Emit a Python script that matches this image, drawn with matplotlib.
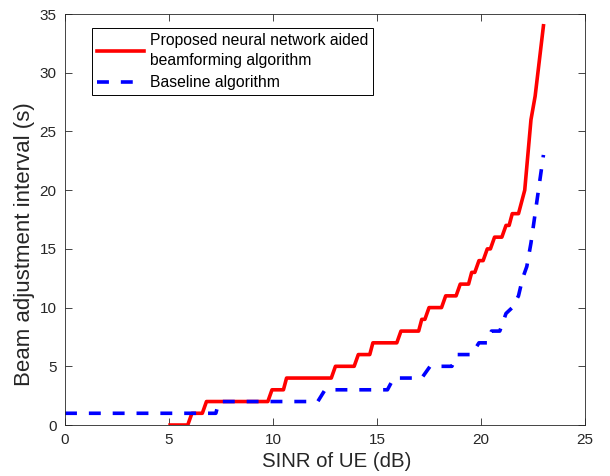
import matplotlib
matplotlib.use("Agg")
import matplotlib.pyplot as plt

# SINR (dB) vs beam adjustment interval (s)
red_x = [5.05, 5.9, 6.1, 6.6, 6.8, 9.75, 9.95, 10.5, 10.65, 12.8, 13.0, 13.9,
         14.1, 14.65, 14.8, 15.95, 16.15, 17.0, 17.15, 17.3, 17.5, 18.1, 18.3,
         18.8, 19.0, 19.4, 19.55, 19.7, 19.9, 20.1, 20.3, 20.45, 20.65, 21.0,
         21.2, 21.35, 21.5, 21.8, 22.1, 22.25, 22.4, 22.6, 23.0]
red_y = [0, 0, 1, 1, 2, 2, 3, 3, 4, 4, 5, 5, 6, 6, 7, 7, 8, 8, 9, 9, 10, 10,
         11, 11, 12, 12, 13, 13, 14, 14, 15, 15, 16, 16, 17, 17, 18, 18,
         20, 23, 26, 28, 34]

blue_x = [0, 7.25, 7.4, 12.15, 12.5, 15.5, 15.8, 17.15, 17.55, 18.6, 18.85,
          19.55, 19.9, 20.3, 20.5, 20.9, 21.2, 21.5, 21.8, 22.0, 22.2, 22.4,
          22.6, 22.8, 23.0]
blue_y = [1, 1, 2, 2, 3, 3, 4, 4, 5, 5, 6, 6, 7, 7, 8, 8, 9.5, 10, 11, 12.5,
          13.5, 15.5, 18, 20.5, 23]

labels = ["Proposed neural network aided\nbeamforming algorithm",
          "Baseline algorithm"]

plt.rcParams['font.family'] = ['Liberation Sans', 'DejaVu Sans']
gray = (0.15, 0.15, 0.15)

fig = plt.figure(figsize=(6.1, 4.76), dpi=100)
ax = fig.add_axes([0.1066, 0.1071, 0.8525, 0.8634])

ax.plot(red_x, red_y, color='red', lw=2.6, label=labels[0])
ax.plot(blue_x, blue_y, color='blue', lw=2.6, dashes=(3.3, 3.3),
        label=labels[1])

ax.set_xlim(0, 25)
ax.set_ylim(0, 35)
ax.set_xticks(range(0, 26, 5))
ax.set_yticks(range(0, 36, 5))
ax.tick_params(direction='in', top=True, right=True, length=5, width=0.6,
               labelsize=11, colors=gray, pad=6)
for s in ax.spines.values():
    s.set_color(gray)
    s.set_linewidth(0.6)

ax.set_xlabel("SINR of UE (dB)", fontsize=14.7, color=gray)
ax.xaxis.set_label_coords(0.523, -0.066)
ax.set_ylabel("Beam adjustment interval (s)", fontsize=16, color=gray)
ax.yaxis.set_label_coords(-0.058, 0.44)

leg = ax.legend(loc='upper left', bbox_to_anchor=(0.052, 0.966),
                borderaxespad=0, fontsize=11.3, handlelength=3.0,
                handletextpad=0.35, borderpad=0.33, labelspacing=0.45,
                frameon=True, fancybox=False, framealpha=1)
leg.get_frame().set_edgecolor('black')
leg.get_frame().set_linewidth(0.7)
for t in leg.get_texts():
    t.set_color('black')
    t.set_linespacing(1.42)

fig.savefig("out.png", dpi=100)
